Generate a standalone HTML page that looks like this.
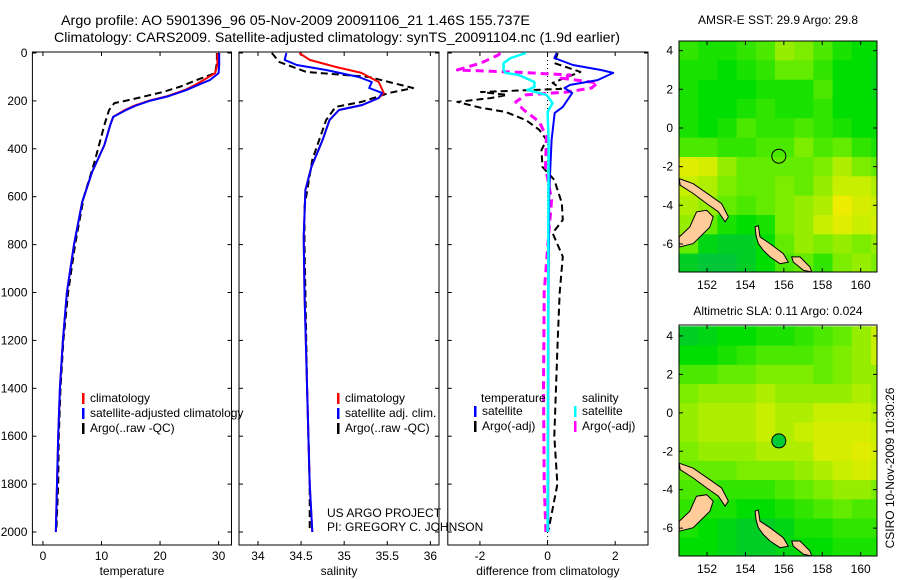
<!DOCTYPE html>
<html><head><meta charset="utf-8"><style>
html,body{margin:0;padding:0;background:#fff;}
svg{display:block;font-family:"Liberation Sans",sans-serif;}
</style></head><body>
<svg id="fig" width="900" height="580" viewBox="0 0 900 580" xmlns="http://www.w3.org/2000/svg">
<text x="61" y="25" font-size="14" textLength="469" lengthAdjust="spacingAndGlyphs">Argo profile: AO 5901396_96 05-Nov-2009 20091106_21 1.46S 155.737E</text>
<text x="54" y="42" font-size="14" textLength="566" lengthAdjust="spacingAndGlyphs">Climatology: CARS2009. Satellite-adjusted climatology: synTS_20091104.nc (1.9d earlier)</text>
<text x="778" y="24" font-size="12" text-anchor="middle">AMSR-E SST: 29.9 Argo: 29.8</text>
<text x="778" y="315" font-size="12" text-anchor="middle">Altimetric SLA: 0.11 Argo: 0.024</text>
<text transform="translate(894,468) rotate(-90)" font-size="12" text-anchor="middle">CSIRO 10-Nov-2009 10:30:26</text>
<g id="layer"></g>
</svg>
<script>
// ---- data ----
const depthTicks=[0,200,400,600,800,1000,1200,1400,1600,1800,2000];
const tempTicks=[0,10,20,30];
const salTicks=[34,34.5,35,35.5,36];
const diffTicks=[-2,0,2];

const tClimDepth=[0,50,84,113,133,155,180,200,220,238,267,300,384,497,622,800,1000,1200,1400,1600,1800,2000];
const tClim=[29.8,29.8,29.4,27.4,26.0,24.2,21.3,18.0,15.6,14.0,12.0,11.5,10.5,8.4,6.7,5.3,4.1,3.4,2.9,2.6,2.4,2.2];
const tSatDepth=[0,50,84,113,133,155,180,200,220,238,267,300,384,497,622,800,1000,1200,1400,1600,1800,2000];
const tSat=[30.1,30.1,30,28.5,26.5,24.5,21.5,18.2,15.8,14.2,12.0,11.5,10.5,8.4,6.7,5.3,4.1,3.4,2.9,2.6,2.4,2.2];
const tArgoDepth=[0,42,84,113,140,163,196,209,238,292,455,600,800,1000,1200,1400,1600,1800,1990];
const tArgo=[29.7,29.7,29.4,26.2,23.5,20.5,14.8,12.2,11.3,10.6,8.8,7.0,5.5,4.3,3.5,3.0,2.7,2.6,2.3];

const sSatDepth=[0,29,50,71,100,121,146,167,188,217,238,280,363,476,572,768,1000,1400,1800,2000];
const sSat=[34.33,34.31,34.45,34.79,35.17,35.32,35.29,35.44,35.4,35.21,34.94,34.83,34.75,34.62,34.55,34.53,34.54,34.57,34.6,34.63];
const sClimDepth=[0,29,58,83,121,167,188,217,238,280,363,476,572,768,1000,1400,1800,2000];
const sClim=[34.48,34.6,34.9,35.2,35.4,35.46,35.4,35.21,34.94,34.83,34.75,34.62,34.55,34.53,34.54,34.57,34.6,34.63];
const sArgoDepth=[0,38,79,100,121,146,167,204,225,280,446,643,800,1000,1400,1800,2000];
const sArgo=[34.16,34.25,34.56,35.29,35.52,35.8,35.52,35.2,34.9,34.79,34.63,34.54,34.54,34.55,34.57,34.6,34.6];

const dTSatDepth=[0,21,50,71,83,113,133,146,167,225,250,363,572,1000,1500,2000];
const dTSat=[0.27,0.2,0.75,1.58,1.94,1.48,0.67,0.5,0.73,0.45,0.21,0.12,0.05,0.03,0.02,0.02];
const dTArgoDepth=[0,42,79,100,125,150,163,175,188,204,229,246,280,321,363,405,476,530,626,697,752,850,1000,1200,1400,1600,1800,1990];
const dTArgo=[0.3,0.2,0.97,0.58,0.15,0.4,-1.97,-1.2,-1.67,-2.67,-1.97,-1.24,-0.64,-0.24,-0.03,-0.18,-0.15,0.2,0.42,0.45,0.15,0.45,0.36,0.3,0.25,0.2,0.29,0.03];
const dSSatDepth=[0,21,42,71,83,92,121,142,154,175,209,246,363,1000,2000];
const dSSat=[-0.64,-1.09,-1.3,-1.3,-1.24,-0.85,-0.39,-0.39,-0.6,-0.03,0.15,0,0.03,0.02,0];
const dSArgoDepth=[0,8,42,71,80,92,105,125,146,163,175,204,238,288,350,476,614,726,1000,1400,1800,2000];
const dSArgo=[-1.4,-1.45,-1.97,-2.67,-0.9,0.67,0.4,1.48,1.3,0.58,-0.64,-0.94,-0.7,-0.24,-0.03,-0.06,0.12,0.05,-0.1,-0.12,-0.1,-0.05];

const lonTicks=[152,154,156,158,160];
const latTicks=[4,2,0,-2,-4,-6];
const sstGrid=[
[0.4,0.35,0.35,0.4,0.45,0.6,0.55,0.45,0.35,0.3,0.3],
[0.35,0.35,0.3,0.35,0.4,0.5,0.5,0.4,0.3,0.3,0.25],
[0.35,0.3,0.3,0.3,0.35,0.35,0.35,0.45,0.3,0.3,0.25],
[0.35,0.3,0.3,0.35,0.4,0.35,0.35,0.4,0.3,0.3,0.3],
[0.35,0.3,0.35,0.45,0.4,0.4,0.45,0.4,0.35,0.3,0.3],
[0.45,0.45,0.4,0.4,0.45,0.45,0.55,0.45,0.5,0.4,0.35],
[0.8,0.75,0.6,0.5,0.5,0.5,0.5,0.55,0.65,0.55,0.5],
[0.7,0.65,0.55,0.5,0.5,0.55,0.5,0.6,0.7,0.7,0.65],
[0.65,0.6,0.5,0.45,0.5,0.55,0.6,0.65,0.85,0.75,0.7],
[0.6,0.5,0.35,0.3,0.35,0.55,0.6,0.7,0.8,0.7,0.75],
[0.5,0.25,0.2,0.2,0.3,0.5,0.6,0.55,0.6,0.55,0.6],
[0.2,0.15,0.15,0.2,0.3,0.45,0.5,0.4,0.55,0.6,0.55]];
const slaGrid=[
[0.2,0.25,0.3,0.3,0.35,0.35,0.4,0.45,0.5,0.6,0.7],
[0.3,0.3,0.35,0.4,0.45,0.45,0.45,0.5,0.55,0.6,0.7],
[0.45,0.45,0.5,0.5,0.55,0.55,0.55,0.5,0.55,0.6,0.6],
[0.55,0.6,0.6,0.6,0.65,0.6,0.6,0.6,0.6,0.65,0.6],
[0.6,0.65,0.65,0.65,0.7,0.65,0.65,0.7,0.7,0.7,0.65],
[0.6,0.65,0.65,0.65,0.7,0.65,0.7,0.75,0.75,0.75,0.7],
[0.55,0.6,0.6,0.6,0.65,0.65,0.65,0.75,0.75,0.8,0.75],
[0.5,0.5,0.5,0.55,0.55,0.55,0.6,0.65,0.7,0.75,0.7],
[0.45,0.45,0.4,0.4,0.4,0.45,0.5,0.55,0.6,0.6,0.55],
[0.4,0.35,0.35,0.3,0.3,0.35,0.4,0.45,0.5,0.45,0.45],
[0.35,0.3,0.25,0.2,0.2,0.25,0.35,0.35,0.4,0.4,0.4],
[0.3,0.3,0.25,0.2,0.2,0.25,0.3,0.3,0.35,0.35,0.35]];
const argoLon=155.737, argoLat=-1.46;
const landNewIreland=[[150.55,-2.62],[151.28,-2.88],[152.15,-3.48],[152.76,-3.91],[153.11,-4.6],[152.94,-4.86],[152.59,-4.34],[151.98,-3.91],[151.28,-3.39],[150.6,-2.96]];
const landNewBritain=[[150.55,-5.64],[151.1,-5.12],[151.45,-4.34],[151.98,-4.26],[152.32,-4.6],[152.15,-5.12],[151.8,-5.47],[151.28,-5.98],[150.55,-6.16]];
const landBougainville=[[154.5,-5.12],[154.67,-5.05],[154.76,-5.64],[155.28,-5.98],[155.97,-6.5],[156.23,-6.94],[155.8,-7.02],[155.28,-6.67],[154.93,-6.33],[154.67,-5.98],[154.55,-5.55]];
const landChoiseul=[[156.41,-6.67],[156.84,-6.67],[157.36,-7.19],[157.45,-7.45],[157.02,-7.36],[156.49,-6.94]];

// ---- helpers ----
const NS="http://www.w3.org/2000/svg";
const layer=document.getElementById('layer');
function mk(tag,attrs,parent){const e=document.createElementNS(NS,tag);for(const k in attrs)e.setAttribute(k,attrs[k]);(parent||layer).appendChild(e);return e;}
const yTop=52,yBot=545;
function yD(d){return 53+d*0.2395;}

function panel(name,x0,x1,xmin,xmax,ticks,label,showY){
  const sx=v=>x0+(v-xmin)/(xmax-xmin)*(x1-x0);
  const g=mk('g',{});
  
  
  const fr=mk('rect',{x:x0,y:yTop,width:x1-x0,height:yBot-yTop,fill:'none',stroke:'#000','stroke-width':1},g);
  
  
  depthTicks.forEach(d=>{
    const y=yD(d);
    mk('line',{x1:x0,x2:x0+4,y1:y,y2:y,stroke:'#000'},g);
    mk('line',{x1:x1-4,x2:x1,y1:y,y2:y,stroke:'#000'},g);
    if(showY){const t=mk('text',{x:x0-5,y:y+4,'font-size':12,'text-anchor':'end'},g);t.textContent=d;
      
      }
  });
  ticks.forEach(v=>{
    const x=sx(v);
    mk('line',{x1:x,x2:x,y1:yTop,y2:yTop+4,stroke:'#000'},g);
    mk('line',{x1:x,x2:x,y1:yBot-4,y2:yBot,stroke:'#000'},g);
    const t=mk('text',{x:x,y:560,'font-size':12,'text-anchor':'middle'},g);t.textContent=v;
    
    
  });
  const lt=mk('text',{x:(x0+x1)/2,y:575,'font-size':12,'text-anchor':'middle'},g);lt.textContent=label;
  
  
  return sx;
}
function curve(sx,depths,vals,color,w,dash,name){
  const pts=depths.map((d,i)=>sx(vals[i]).toFixed(1)+','+yD(d).toFixed(1)).join(' ');
  const p=mk('polyline',{points:pts,fill:'none',stroke:color,'stroke-width':w,'stroke-linejoin':'round'});
  if(dash)p.setAttribute('stroke-dasharray',dash);
  
  
}
function legendEntry(x,y,color,text,name){
  const r=mk('rect',{x:x,y:y-9,width:2.5,height:11,fill:color});
  
  
  const t=mk('text',{x:x+8,y:y,'font-size':12});t.textContent=text;
  
  
}
function txt(x,y,s,name){const t=mk('text',{x:x,y:y,'font-size':12});t.textContent=s;
  
  }

// temperature panel
const sxT=panel('temperature',32.4,231.5,-1.8,32.2,tempTicks,'temperature',true);
curve(sxT,tArgoDepth,tArgo,'#000',2,'7,4','temp-argo-line');
curve(sxT,tClimDepth,tClim,'#ff0000',2,null,'temp-climatology-line');
curve(sxT,tSatDepth,tSat,'#0000ff',2,null,'temp-satellite-line');
legendEntry(82,402,'#ff0000','climatology','temp-legend-climatology');
legendEntry(82,417,'#0000ff','satellite-adjusted climatology','temp-legend-satellite');
legendEntry(82,432,'#000','Argo(..raw -QC)','temp-legend-argo');

// salinity panel
const sxS=panel('salinity',239,439,33.78,36.1,salTicks,'salinity',false);
curve(sxS,sArgoDepth,sArgo,'#000',2,'7,4','sal-argo-line');
curve(sxS,sClimDepth,sClim,'#ff0000',2,null,'sal-climatology-line');
curve(sxS,sSatDepth,sSat,'#0000ff',2,null,'sal-satellite-line');
legendEntry(337,402,'#ff0000','climatology','sal-legend-climatology');
legendEntry(337,417,'#0000ff','satellite adj. clim.','sal-legend-satellite');
legendEntry(337,432,'#000','Argo(..raw -QC)','sal-legend-argo');
txt(327,517,'US ARGO PROJECT','project-credit');
txt(327,531,'PI: GREGORY C. JOHNSON','pi-credit');

// difference panel
const sxD=panel('difference',447.8,648,-2.95,2.97,diffTicks,'difference from climatology',false);
const zl=mk('line',{x1:sxD(0),x2:sxD(0),y1:yTop,y2:yBot,stroke:'#000','stroke-dasharray':'1,3'});


curve(sxD,dTArgoDepth,dTArgo,'#000',2,'7,4','diff-temp-argo-line');
curve(sxD,dSArgoDepth,dSArgo,'#ff00ff',3,'8,5','diff-sal-argo-line');
curve(sxD,dTSatDepth,dTSat,'#0000ff',2,null,'diff-temp-satellite-line');
curve(sxD,dSSatDepth,dSSat,'#00ffff',2.5,null,'diff-sal-satellite-line');
txt(481,402,'temperature','diff-legend-temp-header');
legendEntry(474,415,'#0000ff','satellite','diff-legend-temp-satellite');
legendEntry(474,430,'#000','Argo(-adj)','diff-legend-temp-argo');
txt(582,402,'salinity','diff-legend-sal-header');
legendEntry(574,415,'#00ffff','satellite','diff-legend-sal-satellite');
legendEntry(574,430,'#ff00ff','Argo(-adj)','diff-legend-sal-argo');

// ---- maps ----
function cmap(v){
  const stops=[[0,[0,176,112]],[0.3,[0,221,0]],[0.5,[100,236,0]],[0.7,[200,238,0]],[0.85,[238,236,0]],[1,[255,187,0]]];
  for(let i=1;i<stops.length;i++){if(v<=stops[i][0]){const a=stops[i-1],b=stops[i];const t=(v-a[0])/(b[0]-a[0]);
    return 'rgb('+a[1].map((c,k)=>Math.round(c+(b[1][k]-c)*t)).join(',')+')';}}
  return 'rgb(255,187,0)';
}
function map(name,x0,y0,x1,y1,latTop,latBot,grid,circleFill){
  const lon0=150.54,lon1=160.85;
  const px=l=>x0+(l-lon0)/(lon1-lon0)*(x1-x0);
  const py=l=>y0+(latTop-l)/(latTop-latBot)*(y1-y0);
  const g=mk('g',{});
  
  
  const clip=mk('clipPath',{id:name+'-clip'},g);
  mk('rect',{x:x0,y:y0,width:x1-x0,height:y1-y0},clip);
  const cg=mk('g',{'clip-path':'url(#'+name+'-clip)'},g);
  grid.forEach((row,r)=>row.forEach((v,c)=>{
    const la=4.5-r, lo=lon0+c;
    const cell=mk('rect',{x:px(lo).toFixed(1),y:py(la).toFixed(1),width:(px(lo+1)-px(lo)+0.5).toFixed(1),height:(py(la-1)-py(la)+0.5).toFixed(1),fill:cmap(v)},cg);
    
    
  }));
  [landNewIreland,landNewBritain,landBougainville,landChoiseul].forEach(poly=>{
    const p=mk('polygon',{points:poly.map(q=>px(q[0]).toFixed(1)+','+py(q[1]).toFixed(1)).join(' '),fill:'#ffcc99',stroke:'#000','stroke-width':1},cg);
    
    
  });
  const c=mk('circle',{cx:px(argoLon),cy:py(argoLat),r:7,fill:circleFill,stroke:'#000','stroke-width':1},g);
  
  
  mk('rect',{x:x0,y:y0,width:x1-x0,height:y1-y0,fill:'none',stroke:'#000'},g);
  lonTicks.forEach(l=>{const x=px(l);
    mk('line',{x1:x,x2:x,y1:y0,y2:y0+4,stroke:'#000'},g);
    mk('line',{x1:x,x2:x,y1:y1-4,y2:y1,stroke:'#000'},g);
    const t=mk('text',{x:x,y:y1+17,'font-size':12,'text-anchor':'middle'},g);t.textContent=l;
    
    });
  latTicks.forEach(l=>{const y=py(l);
    mk('line',{x1:x0,x2:x0+4,y1:y,y2:y,stroke:'#000'},g);
    mk('line',{x1:x1-4,x2:x1,y1:y,y2:y,stroke:'#000'},g);
    const t=mk('text',{x:x0-6,y:y+4,'font-size':12,'text-anchor':'end'},g);t.textContent=l;
    
    });
}
map('sst-map',679,41,877,272,4.5,-7.45,sstGrid,'none');
map('sla-map',679,325,877,556,4.57,-7.45,slaGrid,'#00cc33');
</script>
</body></html>
